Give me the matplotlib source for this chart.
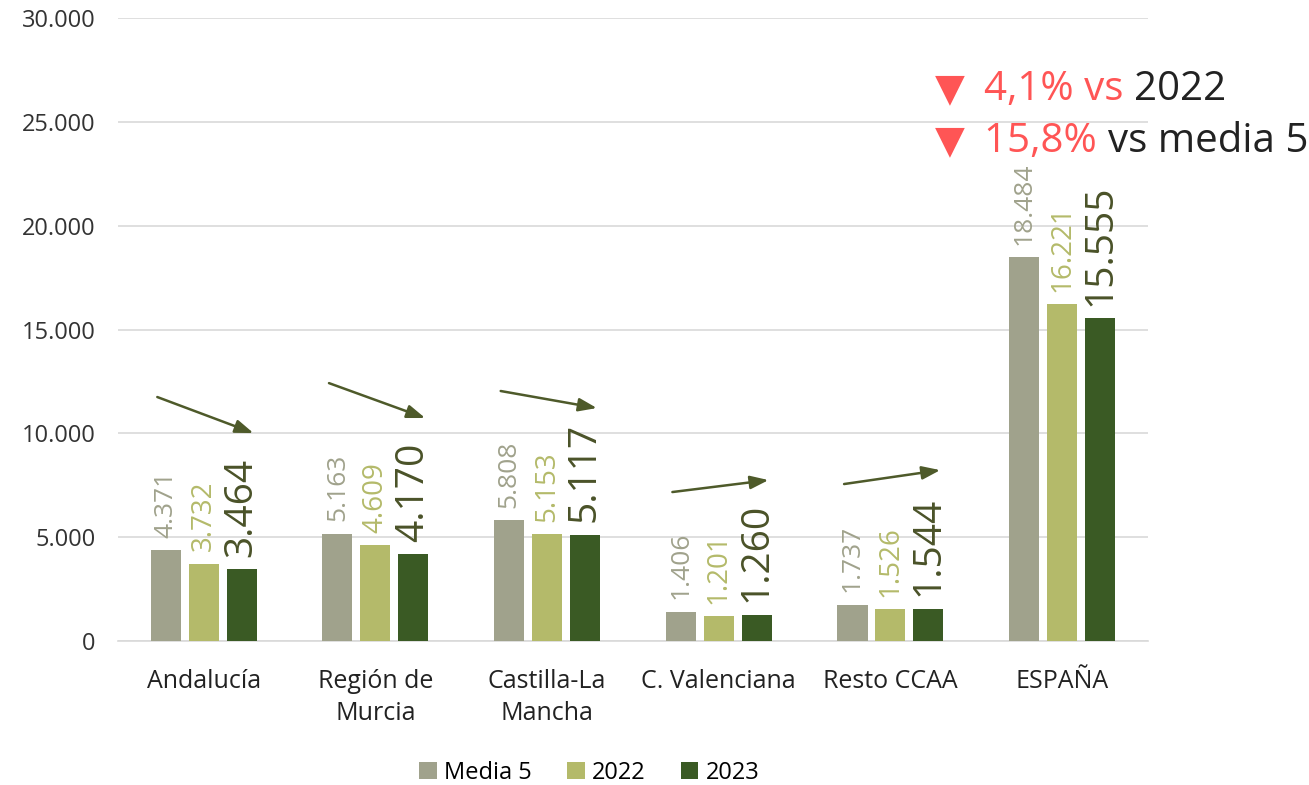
import numpy as np
import matplotlib
matplotlib.use("Agg")
import matplotlib.pyplot as plt

plt.rcParams['font.family'] = ['Open Sans', 'DejaVu Sans']

categories = ["Andalucía", "Región de\nMurcia", "Castilla-La\nMancha", "C. Valenciana", "Resto CCAA", "ESPAÑA"]
media5 = [4371, 5163, 5808, 1406, 1737, 18484]
v2022 = [3732, 4609, 5153, 1201, 1526, 16221]
v2023 = [3464, 4170, 5117, 1260, 1544, 15555]
series_names = ["Media 5", "2022", "2023"]

# trend arrows (start value, end value) per region
arrow_start = [11750, 12420, 12040, 7175, 7560]
arrow_end = [10015, 10740, 11220, 7750, 8230]

def fmt(v):
    return "{:,}".format(v).replace(",", ".")

bar_colors = ["#a0a28c", "#b4ba6a", "#3a5a24"]
label_colors = ["#a0a28c", "#b4ba6a", "#4a5228"]
label_sizes = [19, 20, 28]

fig = plt.figure(figsize=(13.09, 7.85), dpi=100)
ax = fig.add_axes([0.090, 0.1834, 0.787, 0.7936])

x = np.arange(len(categories))
w = 0.175
step = 0.221
for k, vals in enumerate([media5, v2022, v2023]):
    pos = x + (k - 1) * step
    ax.bar(pos, vals, width=w, color=bar_colors[k], label=series_names[k], zorder=3)
    for p, v in zip(pos, vals):
        ax.annotate(fmt(v), (p, v), xytext=(0, 9), textcoords="offset points",
                    rotation=90, ha="center", va="bottom",
                    color=label_colors[k], fontsize=label_sizes[k], zorder=4)

for i in range(len(arrow_start)):
    ax.annotate("", xy=(i + 0.29, arrow_end[i]), xytext=(i - 0.27, arrow_start[i]),
                arrowprops=dict(arrowstyle="-|>,head_length=1.1,head_width=0.4",
                                color="#4e5a2a", lw=1.8, shrinkA=0, shrinkB=0), zorder=5)

ax.set_xlim(-0.5, len(categories) - 0.5)
ax.set_ylim(0, 30000)
ax.set_yticks(np.arange(0, 30001, 5000))
ax.set_yticklabels([fmt(v) for v in range(0, 30001, 5000)], fontsize=17, color="#333333")
ax.set_xticks(x)
ax.set_xticklabels(categories, fontsize=18, color="#222222", linespacing=1.4)
ax.tick_params(axis="x", length=0, pad=20)
ax.tick_params(axis="y", length=0, pad=16)
ax.grid(axis="y", color="#d9d9d9", lw=1.2, zorder=0)
for s in ["top", "right", "left"]:
    ax.spines[s].set_visible(False)
ax.spines["bottom"].set_color("#d9d9d9")
ax.spines["bottom"].set_linewidth(1.2)

# annotation for Spain
red = "#ff5555"
dark = "#222222"
fig.text(0.714, 0.886, "▼", color=red, fontsize=28, va="center", family=["DejaVu Sans"])
t2 = fig.text(0.752, 0.886, "4,1% vs ", color=red, fontsize=29, va="center")
ax.annotate("2022", xy=(1, 0.5), xycoords=t2, va="center", ha="left",
            color=dark, fontsize=29, annotation_clip=False)
fig.text(0.714, 0.82, "▼", color=red, fontsize=28, va="center", family=["DejaVu Sans"])
t4 = fig.text(0.752, 0.82, "15,8% ", color=red, fontsize=29, va="center")
ax.annotate("vs media 5", xy=(1, 0.5), xycoords=t4, va="center", ha="left",
            color=dark, fontsize=29, annotation_clip=False)

fig.legend(loc="lower center", bbox_to_anchor=(0.45, -0.027), ncol=3, frameon=False,
           fontsize=17, handlelength=0.75, handleheight=0.75, handletextpad=0.3,
           columnspacing=1.5)

fig.savefig("out.png", dpi=100)
